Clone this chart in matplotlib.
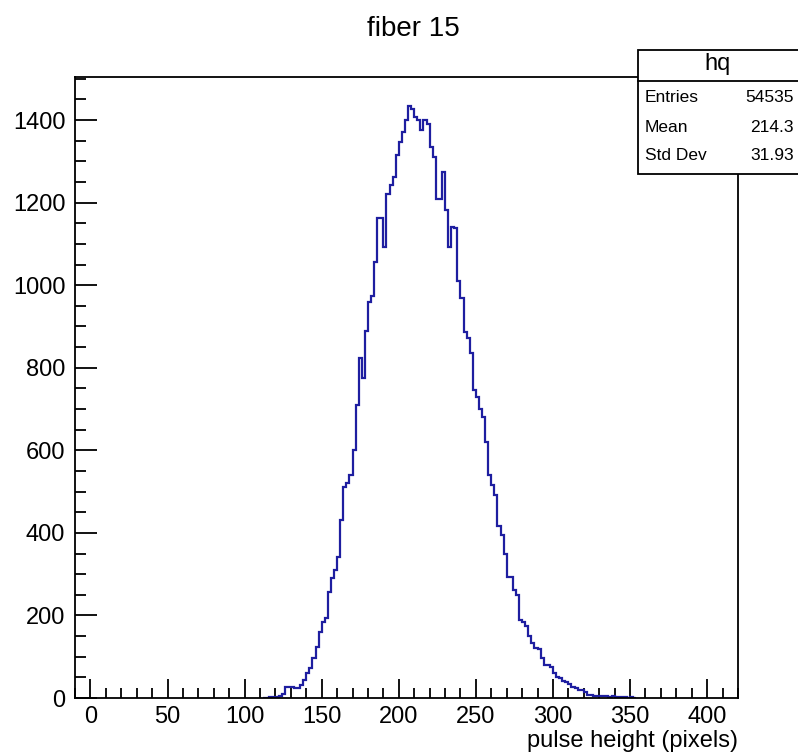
import numpy as np
import matplotlib
matplotlib.use('Agg')
import matplotlib.pyplot as plt
from matplotlib.patches import Rectangle
from matplotlib.lines import Line2D
from matplotlib.ticker import MultipleLocator

plt.rcParams['font.family'] = ['Liberation Sans', 'DejaVu Sans']

# histogram "hq": counts per 2-pixel bin, first bin starts at 112
bin_start = 112
bin_width = 2
counts = [
    0, 1, 2, 2, 3, 6, 10, 26, 26, 27,
    25, 24, 31, 44, 60, 73, 97, 124, 160, 185,
    194, 257, 290, 310, 342, 431, 512, 520, 540, 600,
    710, 823, 775, 890, 960, 975, 1057, 1162, 1162, 1093,
    1222, 1242, 1262, 1315, 1347, 1372, 1400, 1434, 1428, 1408,
    1400, 1376, 1400, 1390, 1335, 1311, 1210, 1210, 1275, 1182,
    1093, 1141, 1138, 1010, 968, 887, 871, 835, 746, 730,
    700, 681, 620, 540, 516, 492, 417, 395, 350, 294,
    294, 262, 249, 189, 185, 175, 150, 133, 120, 118,
    96, 80, 80, 76, 60, 52, 48, 42, 39, 33,
    27, 25, 20, 19, 15, 8, 7, 6, 5, 6,
    4, 5, 3, 4, 3, 2, 3, 2, 1, 2,
    1,
]

stats_title = "hq"
stats_labels = ["Entries", "Mean", "Std Dev"]
stats_values = ["54535", "214.3", "31.93"]

edges = bin_start + bin_width * np.arange(len(counts) + 1)

fig = plt.figure(figsize=(7.98, 7.56), dpi=100)
ax = fig.add_axes([0.094, 0.0767, 0.8308, 0.8218])

ax.stairs(counts, edges, color='#1e1ea0', linewidth=1.6, zorder=2)

ax.set_xlim(-10, 420)
ax.set_ylim(0, 1505)
ax.xaxis.set_major_locator(MultipleLocator(50))
ax.xaxis.set_minor_locator(MultipleLocator(10))
ax.yaxis.set_major_locator(MultipleLocator(200))
ax.yaxis.set_minor_locator(MultipleLocator(50))
ax.tick_params(which='both', direction='in', top=False, right=False,
               width=1.3, color='black', labelsize=17)
ax.tick_params(axis='x', which='major', length=14, pad=6)
ax.tick_params(axis='x', which='minor', length=7)
ax.tick_params(axis='y', which='major', length=16, pad=7)
ax.tick_params(axis='y', which='minor', length=8)
for sp in ax.spines.values():
    sp.set_linewidth(1.3)
    sp.set_zorder(3)

ax.set_xlabel("pulse height (pixels)", fontsize=17, ha='right', va='top')
ax.xaxis.set_label_coords(1.0, -0.052)

fig.text(0.518, 0.961, "fiber 15", fontsize=20, ha='center', va='center')

# stats box, cut by the right edge of the picture
bx0, by0 = 638 / 798, 1 - 174 / 756
box = Rectangle((bx0, by0), 0.25, (174 - 50) / 756, transform=fig.transFigure,
                facecolor='white', edgecolor='black', linewidth=1.3, zorder=5)
fig.add_artist(box)
sep_y = 1 - 81 / 756
fig.add_artist(Line2D([bx0, 1.0], [sep_y, sep_y], transform=fig.transFigure,
                      color='black', linewidth=1.3, zorder=6))
fig.text(718 / 798, 1 - 64 / 756, stats_title, fontsize=17, ha='center',
         va='center', zorder=7)
row_y = [97, 127, 155]
for lab, val, yy in zip(stats_labels, stats_values, row_y):
    fig.text(645 / 798, 1 - yy / 756, lab, fontsize=12.5, ha='left',
             va='center', zorder=7)
    fig.text(794 / 798, 1 - yy / 756, val, fontsize=12.5, ha='right',
             va='center', zorder=7)

fig.savefig("out.png", dpi=100)
